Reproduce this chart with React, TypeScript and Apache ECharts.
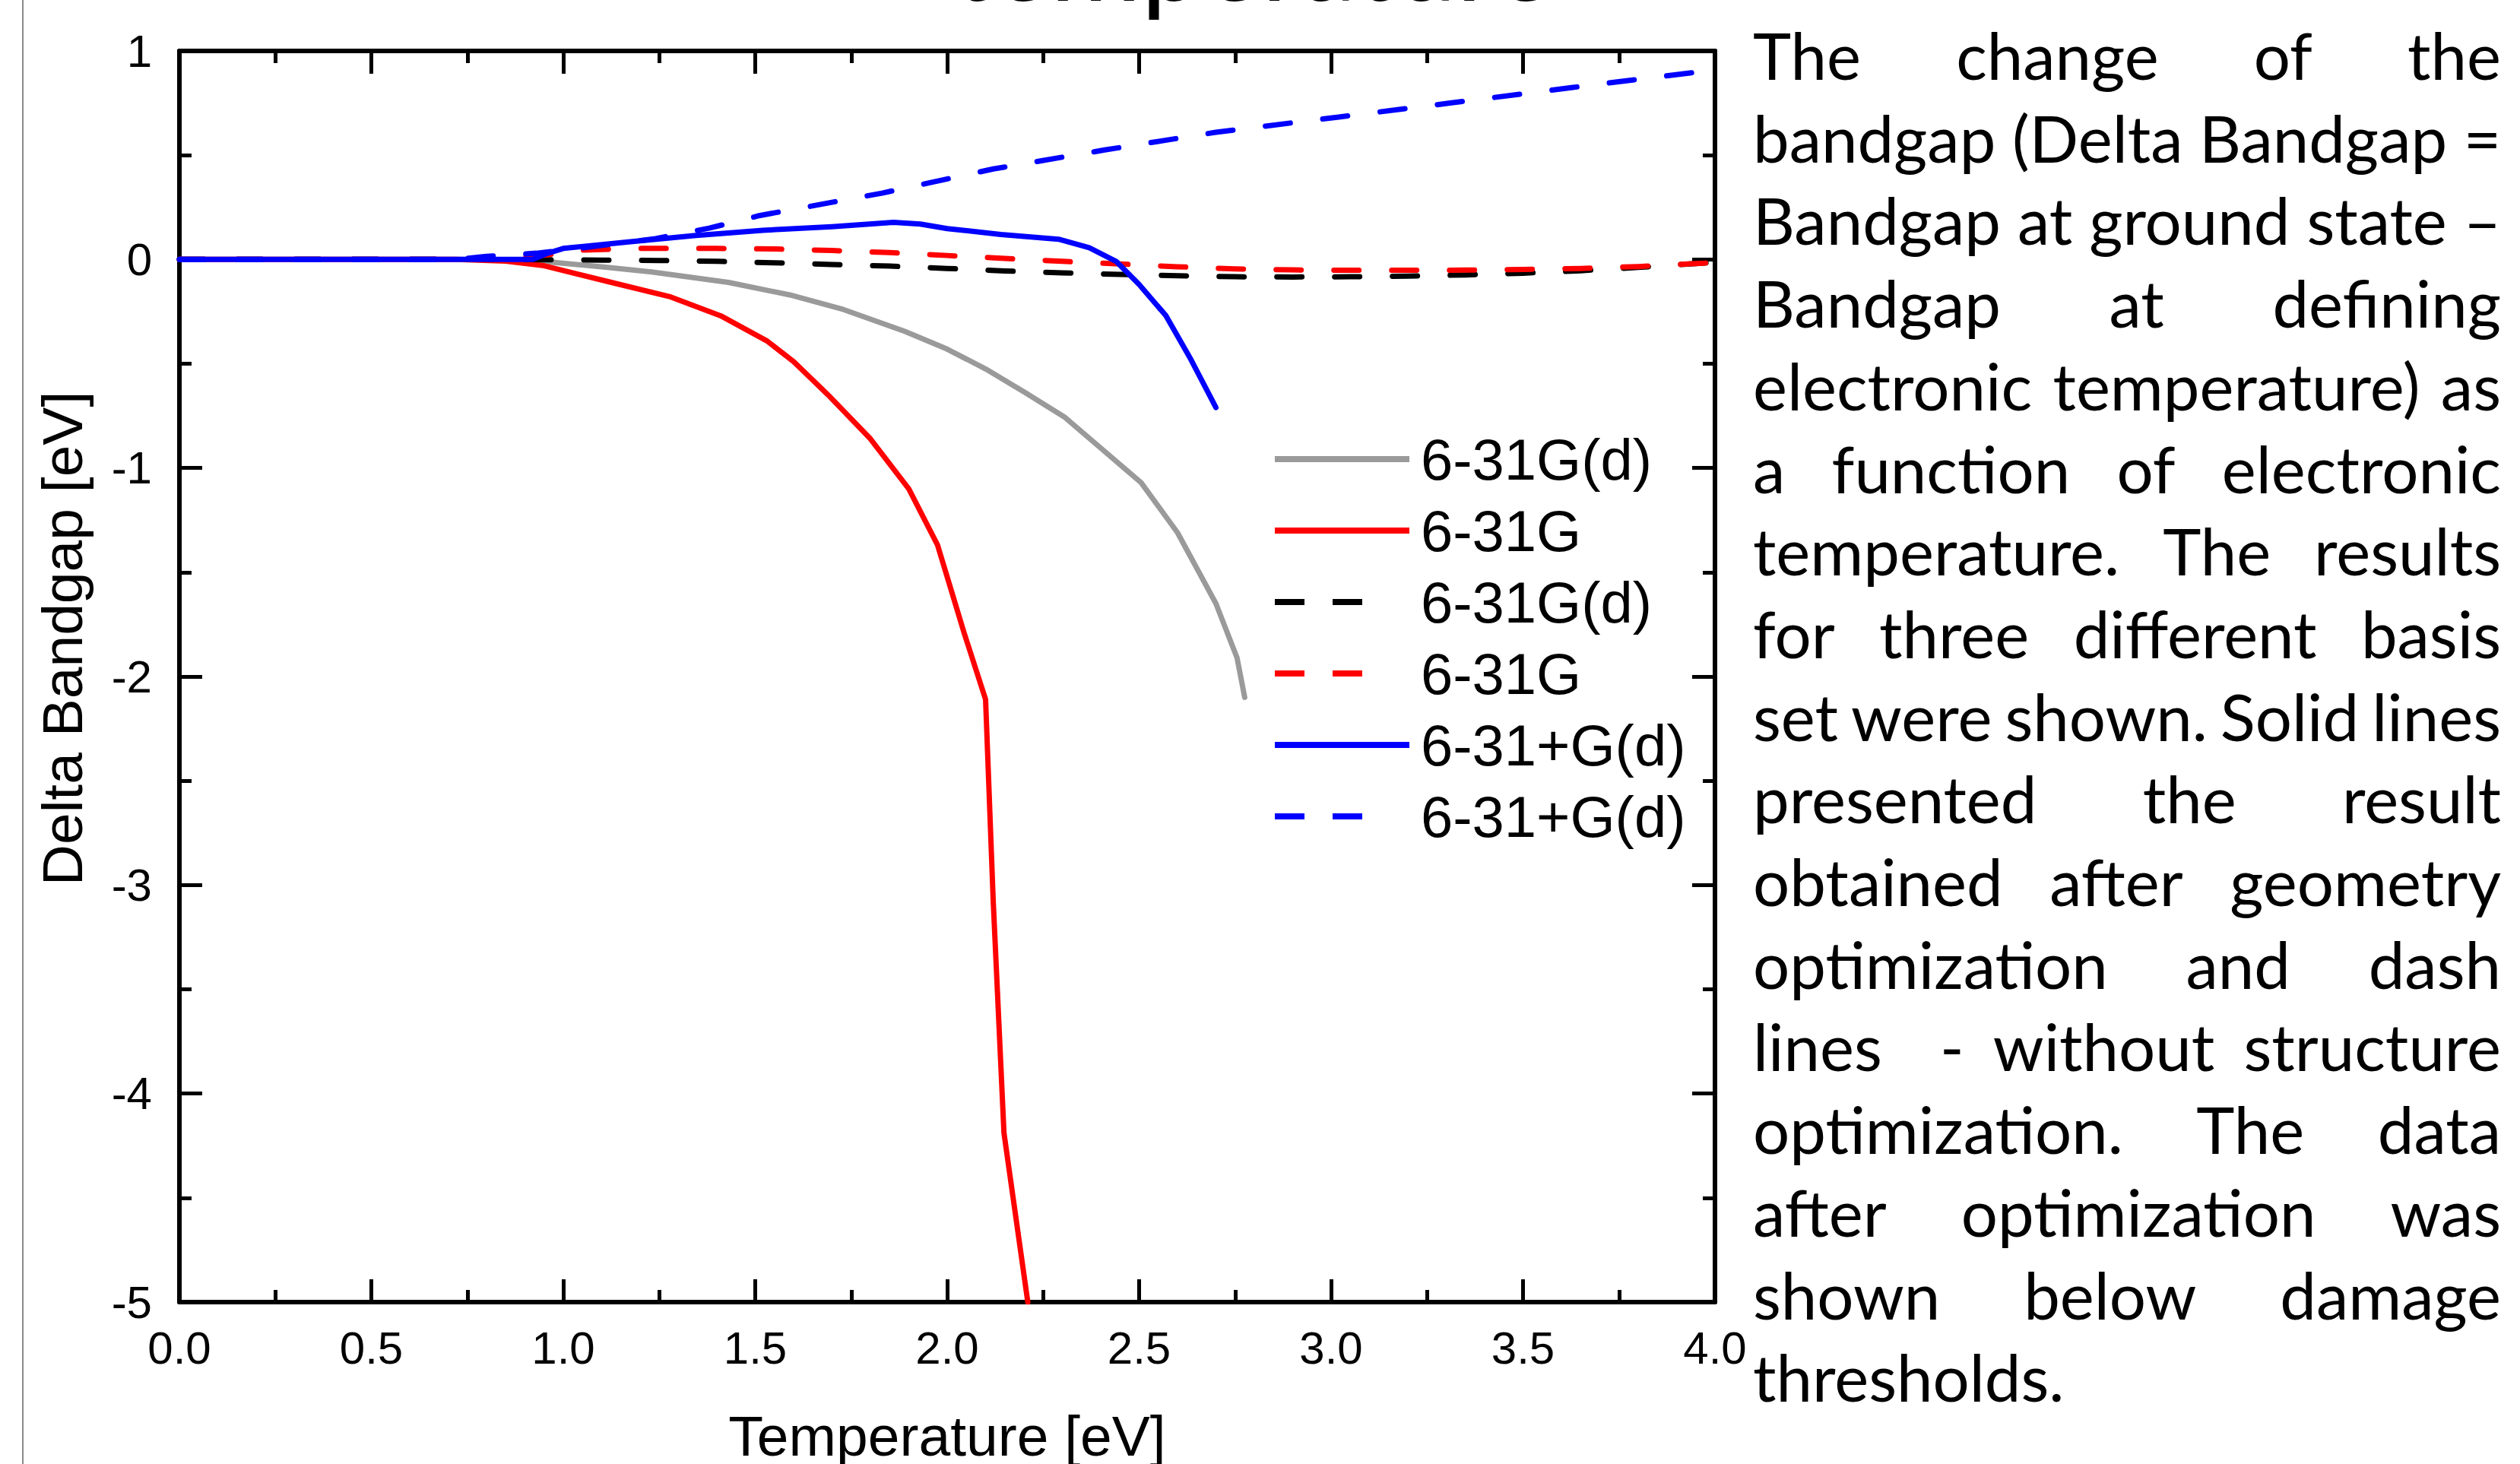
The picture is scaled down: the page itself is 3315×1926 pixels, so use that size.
import React, { useEffect, useRef } from "react";
import * as echarts from "echarts";

// ---------- data ----------
const xTickLabels = ["0.0", "0.5", "1.0", "1.5", "2.0", "2.5", "3.0", "3.5", "4.0"];
const yTickLabels = ["-5", "-4", "-3", "-2", "-1", "0", "1"];

// solid gray: 6-31G(d), after geometry optimization
const optGd: [number, number][] = [
  [0, 0], [0.5, 0], [0.8, 0], [0.95, -0.01], [1.1, -0.035], [1.23, -0.06], [1.43, -0.11],
  [1.59, -0.17], [1.73, -0.24], [1.89, -0.345], [2.0, -0.43], [2.1, -0.525], [2.2, -0.635],
  [2.305, -0.755], [2.505, -1.07], [2.6, -1.31], [2.7, -1.65], [2.755, -1.91], [2.775, -2.1],
];
// solid red: 6-31G, after geometry optimization
const optG: [number, number][] = [
  [0, 0], [0.5, 0], [0.72, 0], [0.85, -0.008], [0.95, -0.03], [1.125, -0.11], [1.28, -0.18],
  [1.41, -0.27], [1.53, -0.39], [1.6, -0.49], [1.69, -0.65], [1.8, -0.86], [1.9, -1.1],
  [1.975, -1.37], [2.044, -1.79], [2.1, -2.11], [2.12, -3.08], [2.148, -4.19], [2.21, -5.0],
];
// dashed black: 6-31G(d), without optimization
const noOptGd: [number, number][] = [
  [0, 0], [0.5, 0], [0.8, 0], [1.1, -0.003], [1.25, -0.005], [1.4, -0.009], [1.55, -0.016],
  [1.7, -0.024], [1.85, -0.032], [2.0, -0.043], [2.15, -0.055], [2.3, -0.064], [2.45, -0.072],
  [2.6, -0.078], [2.75, -0.083], [2.9, -0.084], [3.05, -0.083], [3.2, -0.08], [3.35, -0.074],
  [3.5, -0.066], [3.65, -0.054], [3.8, -0.038], [3.95, -0.02], [4.0, -0.012],
];
// dashed red: 6-31G, without optimization
const noOptG: [number, number][] = [
  [0, 0], [0.5, 0], [0.8, 0], [0.95, 0.02], [1.05, 0.045], [1.2, 0.053], [1.4, 0.053],
  [1.55, 0.05], [1.7, 0.043], [1.85, 0.033], [2.0, 0.019], [2.15, 0.005], [2.3, -0.009],
  [2.45, -0.022], [2.6, -0.035], [2.75, -0.045], [2.9, -0.05], [3.05, -0.052], [3.2, -0.052],
  [3.35, -0.051], [3.5, -0.048], [3.65, -0.043], [3.8, -0.034], [3.95, -0.02], [4.0, -0.015],
];
// solid blue: 6-31+G(d), after geometry optimization
const optPlusGd: [number, number][] = [
  [0, 0], [0.5, 0], [0.7, 0], [0.92, 0.0], [0.96, 0.03], [1.0, 0.053], [1.17, 0.084],
  [1.34, 0.114], [1.52, 0.14], [1.7, 0.157], [1.86, 0.178], [1.93, 0.17], [2.0, 0.148],
  [2.14, 0.12], [2.29, 0.097], [2.37, 0.056], [2.44, -0.009], [2.5, -0.12], [2.57, -0.27],
  [2.635, -0.48], [2.7, -0.71],
];
// dashed blue: 6-31+G(d), without optimization
const noOptPlusGd: [number, number][] = [
  [0, 0], [0.5, 0], [0.72, 0], [0.8, 0.015], [0.93, 0.03], [1.05, 0.055], [1.24, 0.1],
  [1.38, 0.15], [1.51, 0.21], [1.83, 0.318], [2.12, 0.434], [2.41, 0.525], [2.7, 0.61],
  [3.02, 0.683], [3.31, 0.75], [3.63, 0.825], [3.95, 0.898], [4.0, 0.91],
];

const seriesNames = ["6-31G(d)", "6-31G", "6-31G(d) ", "6-31G ", "6-31+G(d)", "6-31+G(d) "];

const paragraphLines = [
  "The change of the",
  "bandgap (Delta Bandgap =",
  "Bandgap at ground state –",
  "Bandgap at defining",
  "electronic temperature) as",
  "a function of electronic",
  "temperature. The results",
  "for three different basis",
  "set were shown. Solid lines",
  "presented the result",
  "obtained after geometry",
  "optimization and dash",
  "lines  - without structure",
  "optimization. The data",
  "after optimization was",
  "shown below damage",
  "thresholds.",
];
const titleTail = "temperature";

// ---------- layout / style ----------
const W = 3315;
const H = 1926;
const SANS = "Liberation Sans, Arial, sans-serif";
const PARA_FONT = "Lato";
const PARA_LEFT = 2306;
const PARA_RIGHT = 3290;
const PARA_BASE0 = 105;
const PARA_STEP = 108.7;

const GRAY = "#9a9a9a";
const RED = "#ff0000";
const BLUE = "#0000ff";
const BLACK = "#000000";
const DASH = [33, 43];
const LEGEND_DASH = [39, 37, 39, 600];

function buildTextGraphics() {
  const ctx = document.createElement("canvas").getContext("2d")!;
  const measure = (t: string, size: number, fam: string) => {
    ctx.font = `${size}px ${fam}`;
    return ctx.measureText(t).width;
  };
  const central = (size: number, fam: string) => {
    ctx.font = `${size}px ${fam}`;
    const m: any = ctx.measureText("x");
    const a = m.fontBoundingBoxAscent ?? size * 0.9;
    const d = m.fontBoundingBoxDescent ?? size * 0.22;
    return (a - d) / 2;
  };
  const paraW = PARA_RIGHT - PARA_LEFT;
  let F = 90;
  paragraphLines.forEach((line, i) => {
    if (i === paragraphLines.length - 1) return;
    const toks = line.split(" ");
    const w = toks.reduce((s, t) => s + measure(t, 100, PARA_FONT), 0) / 100;
    F = Math.min(F, paraW / (w + 0.2 * (toks.length - 1)));
  });
  const c = central(F, PARA_FONT);
  const els: any[] = [];
  paragraphLines.forEach((line, i) => {
    const y = PARA_BASE0 + PARA_STEP * i - c;
    const mk = (text: string, x: number) => ({
      type: "text",
      x,
      y,
      silent: true,
      style: { text, fontSize: F, fontFamily: PARA_FONT, fill: BLACK, align: "left", verticalAlign: "middle" },
    });
    if (i === paragraphLines.length - 1) {
      els.push(mk(line, PARA_LEFT));
      return;
    }
    const toks = line.split(" ");
    const widths = toks.map((t) => measure(t, F, PARA_FONT));
    const total = widths.reduce((s, v) => s + v, 0);
    const gap = (paraW - total) / (toks.length - 1);
    let x = PARA_LEFT;
    toks.forEach((t, k) => {
      if (t.length) els.push(mk(t, x));
      x += widths[k] + gap;
    });
  });
  // cut-off title tail at the very top
  const tw = measure(titleTail, 100, PARA_FONT) / 100;
  const FT = 790 / tw;
  els.push({
    type: "text",
    x: 1253,
    y: 1 - central(FT, PARA_FONT),
    silent: true,
    style: { text: titleTail, fontSize: FT, fontFamily: PARA_FONT, fill: BLACK, align: "left", verticalAlign: "middle" },
  });
  // thin frame line on the left
  els.push({
    type: "line",
    silent: true,
    shape: { x1: 30, y1: 0, x2: 30, y2: H },
    style: { stroke: "#8a8a8a", lineWidth: 2 },
  });
  return els;
}

const axisLine = { show: true, onZero: false, lineStyle: { color: BLACK, width: 6 } };
const axisTick = { show: true, inside: true, length: 30, lineStyle: { color: BLACK, width: 5 } };
const minorTick = { show: true, splitNumber: 2, length: 16, lineStyle: { color: BLACK, width: 5 } };

export default function App() {
  const ref = useRef<HTMLDivElement>(null);
  useEffect(() => {
    document.body.style.margin = "0";
    const chart = echarts.init(ref.current!, null, { renderer: "svg", width: W, height: H });
    const lineSeries = (name: string, data: [number, number][], color: string, dashed: boolean, z: number) => ({
      type: "line",
      name,
      data,
      xAxisIndex: 0,
      yAxisIndex: 0,
      symbol: "none",
      showSymbol: false,
      silent: true,
      z,
      itemStyle: { color },
      lineStyle: { color, width: 7, type: dashed ? DASH : "solid", cap: "round", join: "round" },
    });
    const option: any = {
      animation: false,
      backgroundColor: "#ffffff",
      grid: { left: 236, right: W - 2256, top: 67, bottom: H - 1713, containLabel: false, outerBoundsMode: "none" },
      xAxis: [
        {
          type: "value",
          position: "bottom",
          min: 0,
          max: 4,
          interval: 0.5,
          name: "Temperature [eV]",
          nameLocation: "middle",
          nameGap: 138,
          nameTextStyle: { fontSize: 75, lineHeight: 75, fontFamily: SANS, color: BLACK },
          axisLine,
          axisTick,
          minorTick,
          splitLine: { show: false },
          minorSplitLine: { show: false },
          axisLabel: {
            show: true,
            margin: 30,
            fontSize: 60,
            fontFamily: SANS,
            color: BLACK,
            formatter: (v: number) => xTickLabels[Math.round(v / 0.5)] ?? v.toFixed(1),
          },
        },
        {
          type: "value",
          position: "top",
          min: 0,
          max: 4,
          interval: 0.5,
          axisLine,
          axisTick,
          minorTick,
          splitLine: { show: false },
          minorSplitLine: { show: false },
          axisLabel: { show: false },
        },
      ],
      yAxis: [
        {
          type: "value",
          position: "left",
          min: -5,
          max: 1,
          interval: 1,
          name: "Delta Bandgap [eV]",
          nameLocation: "middle",
          nameGap: 117,
          nameTextStyle: { fontSize: 75, lineHeight: 75, fontFamily: SANS, color: BLACK, padding: [0, 0, 0, 100] },
          axisLine,
          axisTick,
          minorTick,
          splitLine: { show: false },
          minorSplitLine: { show: false },
          axisLabel: {
            show: true,
            margin: 36,
            fontSize: 60,
            fontFamily: SANS,
            color: BLACK,
            padding: [0, 0, 12, 0],
            formatter: (v: number) => yTickLabels[Math.round(v + 5)] ?? String(v),
          },
        },
        {
          type: "value",
          position: "right",
          min: -5,
          max: 1,
          interval: 1,
          axisLine,
          axisTick,
          minorTick,
          splitLine: { show: false },
          minorSplitLine: { show: false },
          axisLabel: { show: false },
        },
      ],
      legend: {
        orient: "vertical",
        left: 1673,
        top: 566,
        padding: 0,
        itemWidth: 177,
        itemHeight: 20,
        itemGap: 18,
        selectedMode: false,
        formatter: (name: string) => name.trim(),
        textStyle: { fontSize: 76, lineHeight: 76, fontFamily: SANS, color: BLACK, padding: [0, 0, 0, 10] },
        itemStyle: { opacity: 0, borderWidth: 0 },
        lineStyle: { width: 8, cap: "butt" },
        data: [
          { name: seriesNames[0], lineStyle: { type: "solid" } },
          { name: seriesNames[1], lineStyle: { type: "solid" } },
          { name: seriesNames[2], lineStyle: { type: LEGEND_DASH } },
          { name: seriesNames[3], lineStyle: { type: LEGEND_DASH } },
          { name: seriesNames[4], lineStyle: { type: "solid" } },
          { name: seriesNames[5], lineStyle: { type: LEGEND_DASH } },
        ],
      },
      series: [
        lineSeries(seriesNames[0], optGd, GRAY, false, 2),
        lineSeries(seriesNames[1], optG, RED, false, 3),
        lineSeries(seriesNames[2], noOptGd, BLACK, true, 4),
        lineSeries(seriesNames[3], noOptG, RED, true, 5),
        lineSeries(seriesNames[5], noOptPlusGd, BLUE, true, 6),
        lineSeries(seriesNames[4], optPlusGd, BLUE, false, 7),
      ],
      graphic: { elements: buildTextGraphics() },
    };
    chart.setOption(option);
    return () => chart.dispose();
  }, []);
  return <div ref={ref} style={{ width: W, height: H }} />;
}
